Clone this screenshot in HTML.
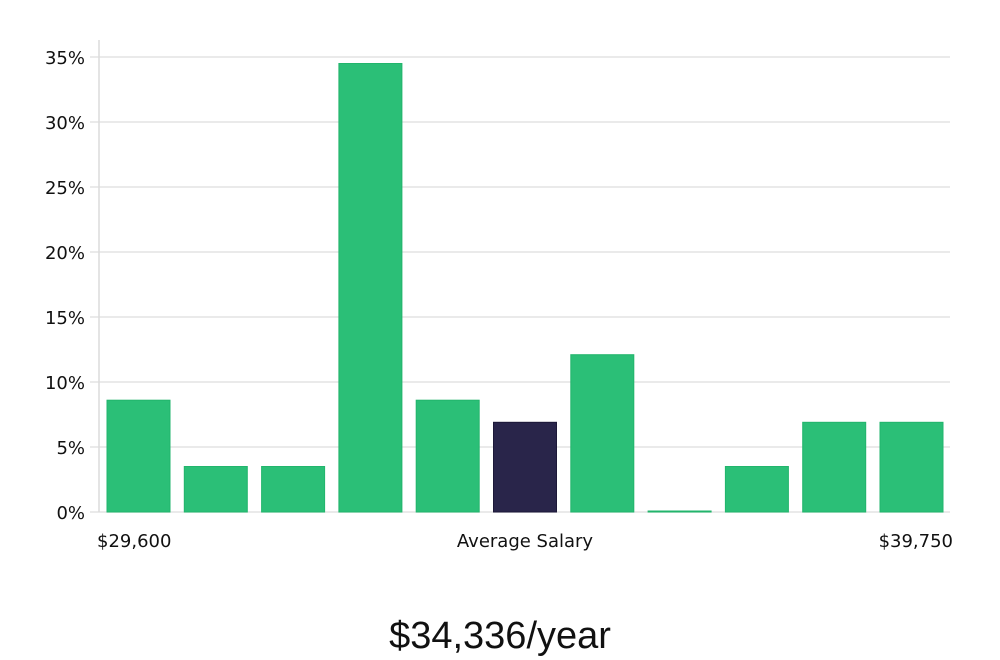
<!DOCTYPE html>
<html><head><meta charset="utf-8"><style>
html,body{margin:0;padding:0;background:#fff;width:1000px;height:660px;overflow:hidden}
text{font-family:"DejaVu Sans","Liberation Sans",sans-serif;fill:#111}
</style></head><body>
<svg id="chart" width="1000" height="660" xmlns="http://www.w3.org/2000/svg">
<g id="grid"></g>
<g id="yaxis"></g>
<g id="bars"></g>
<text x="97" y="547" font-size="18">$29,600</text>
<text x="525" y="547" font-size="18" text-anchor="middle">Average Salary</text>
<text x="953" y="547" font-size="18" text-anchor="end">$39,750</text>
<text x="500" y="648" font-size="38" text-anchor="middle" style="font-family:'Liberation Sans',sans-serif;font-weight:300">$34,336/year</text>
</svg>
<script>
const categories = ["b1","b2","b3","b4","b5","b6","b7","b8","b9","b10","b11"];
const values = [8.6,3.5,3.5,34.5,8.6,6.9,12.1,0,3.5,6.9,6.9];
const highlight = [false,false,false,false,false,true,false,false,false,false,false];
const yTicks = [0,5,10,15,20,25,30,35];
const yTickLabels = ["0%","5%","10%","15%","20%","25%","30%","35%"];
const NS="http://www.w3.org/2000/svg";
const y0=512, pxPer=13.0, xLeft=107, step=77.3, bw=63;
function yScale(v){return y0-v*pxPer;}
function xScale(i){return xLeft+i*step;}
const grid=document.getElementById('grid'), yax=document.getElementById('yaxis'), bars=document.getElementById('bars');
yTicks.forEach((t,i)=>{
  const l=document.createElementNS(NS,'line');
  
  
  l.setAttribute('x1',90);l.setAttribute('x2',950);
  l.setAttribute('y1',yScale(t));l.setAttribute('y2',yScale(t));
  l.setAttribute('stroke','#e3e3e3');l.setAttribute('stroke-width','1.5');
  grid.appendChild(l);
  const tx=document.createElementNS(NS,'text');
  
  
  tx.setAttribute('x',85);tx.setAttribute('y',yScale(t)+7);
  tx.setAttribute('text-anchor','end');tx.setAttribute('font-size','18');
  tx.textContent=yTickLabels[i];
  yax.appendChild(tx);
});
const ax=document.createElementNS(NS,'line');


ax.setAttribute('x1',99);ax.setAttribute('x2',99);ax.setAttribute('y1',40);ax.setAttribute('y2',512);
ax.setAttribute('stroke','#dcdcdc');ax.setAttribute('stroke-width','1.5');
yax.appendChild(ax);
values.forEach((v,i)=>{
  const r=document.createElementNS(NS,'rect');
  
  
  const h=Math.max(v*pxPer,1);
  r.setAttribute('x',xScale(i));r.setAttribute('y',y0-h);
  r.setAttribute('width',bw);r.setAttribute('height',h);
  r.setAttribute('fill',highlight[i]?'#29254a':'#2bbf77');
  r.setAttribute('stroke',highlight[i]?'#1c1838':'#22b56c');r.setAttribute('stroke-width','1');
  bars.appendChild(r);
});
</script>
</body></html>
